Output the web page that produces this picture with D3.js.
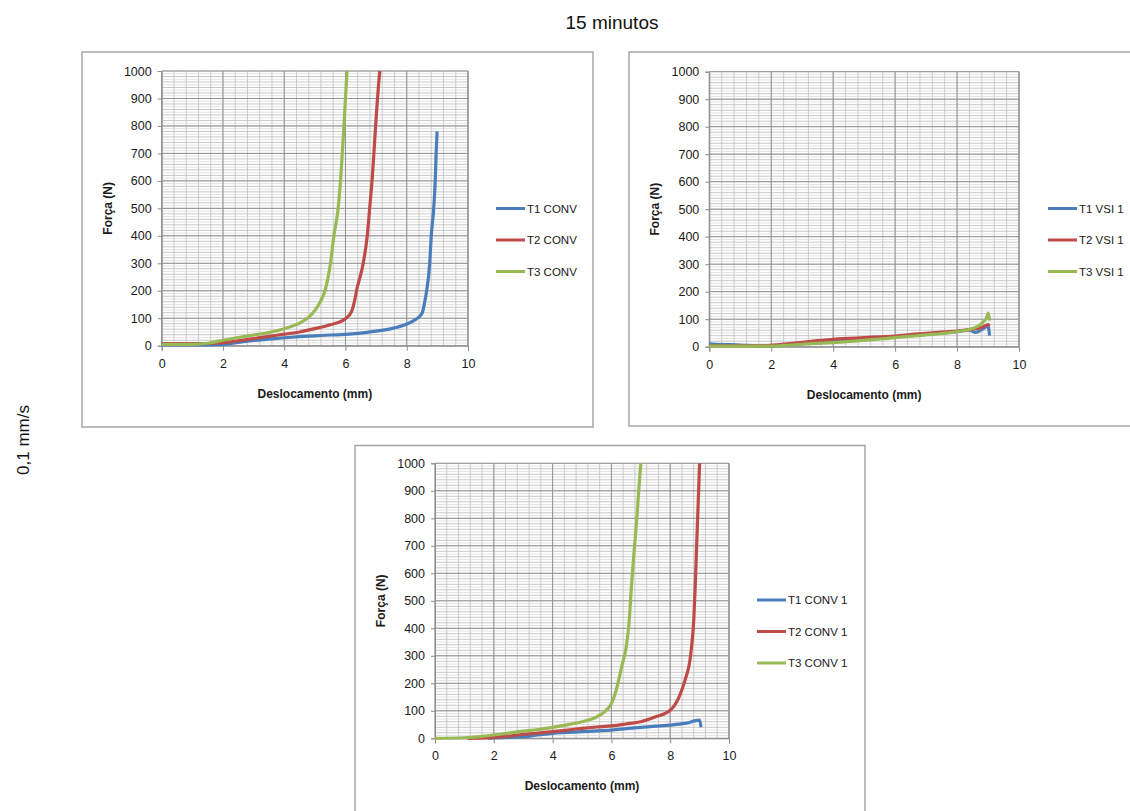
<html>
<head>
<script src="https://d3js.org/d3.v7.min.js"></script>
<style>
  html { font-family: "Liberation Sans", Arial, sans-serif; }
  body { margin: 0; background: #fff; }
</style>
</head>
<body>
<svg id="chart" width="1130" height="811"></svg>
<script>
// ---- data ----
var xTicks = [0, 2, 4, 6, 8, 10];
var yTicks = [0, 100, 200, 300, 400, 500, 600, 700, 800, 900, 1000];

// 15 minutos, panel 1 (CONV)
var t1Conv = [[0,3],[1,3],[1.7,3],[2,5],[2.5,12],[3,19],[3.5,24],[4,29],[4.5,33],[5,36],[5.5,39],[6,41],[6.5,46],[7,53],[7.5,62],[8,79],[8.3,96],[8.5,118],[8.6,167],[8.65,200],[8.75,300],[8.8,400],[8.88,500],[8.93,600],[8.96,700],[8.99,780]];
var t2Conv = [[0,8],[1,8],[1.5,8],[2,11],[2.5,18],[3,26],[3.5,34],[4,42],[4.5,50],[5,62],[5.5,76],[6,98],[6.2,125],[6.3,165],[6.36,200],[6.58,300],[6.71,400],[6.79,500],[6.88,620],[6.95,740],[7.02,860],[7.08,950],[7.12,1000]];
var t3Conv = [[0,5],[1,5],[1.5,9],[2,20],[2.5,30],[3,39],[3.5,48],[4,62],[4.5,82],[4.8,104],[5,128],[5.2,165],[5.33,200],[5.51,300],[5.62,400],[5.76,500],[5.85,620],[5.95,800],[6.0,900],[6.05,1000]];

// 15 minutos, panel 2 (VSI)
var t1Vsi = [[0,10],[0.5,8],[1,6],[1.5,3],[2,2],[2.5,6],[3,11],[3.5,16],[4,20],[4.5,24],[5,28],[5.5,31],[6,35],[6.5,40],[7,45],[7.5,50],[8,55],[8.4,60],[8.6,52],[8.8,62],[9.0,75],[9.05,40]];
var t2Vsi = [[0,3],[1,3],[1.5,3],[2,5],[2.5,10],[3,16],[3.5,22],[4,27],[4.5,30],[5,33],[5.5,36],[6,39],[6.5,44],[7,49],[7.5,53],[8,57],[8.5,64],[8.8,70],[9.0,80],[9.05,75]];
var t3Vsi = [[0,2],[1,2],[2,2],[2.5,5],[3,9],[3.5,12],[4,15],[4.5,19],[5,23],[5.5,28],[6,33],[6.5,38],[7,43],[7.5,48],[8,55],[8.5,66],[8.8,85],[8.95,105],[9.01,122],[9.05,95]];

// panel 3 (CONV 1)
var t1Conv1 = [[1.8,0],[2,1],[2.5,3],[3,6],[3.5,12],[4,18],[4.5,21],[5,24],[5.5,27],[6,30],[6.5,35],[7,40],[7.5,44],[8,48],[8.5,54],[9,66],[9.05,40]];
var t2Conv1 = [[1.1,0],[1.7,1],[2,3],[2.5,8],[3,14],[3.5,19],[4,24],[4.5,30],[5,36],[5.5,41],[6,45],[6.5,52],[7,60],[7.5,78],[8,102],[8.3,150],[8.5,210],[8.7,307],[8.8,428],[8.85,550],[8.9,700],[8.95,850],[9.0,1000]];
var t3Conv1 = [[0,0],[1,2],[1.5,6],[2,12],[2.5,19],[3,26],[3.5,32],[4,40],[4.5,49],[5,60],[5.5,78],[5.8,100],[6,126],[6.2,190],[6.35,260],[6.5,330],[6.6,420],[6.68,550],[6.75,650],[6.85,780],[6.93,900],[7.0,1000]];

var labelsConv = ["T1 CONV", "T2 CONV", "T3 CONV"];
var labelsVsi = ["T1 VSI 1", "T2 VSI 1", "T3 VSI 1"];
var labelsConv1 = ["T1 CONV 1", "T2 CONV 1", "T3 CONV 1"];

var colors = ["#4a7ebb", "#be4b48", "#98b954"];

var svg = d3.select("#chart");

// page titles
svg.append("text").attr("x", 612).attr("y", 29)
  .attr("text-anchor", "middle").attr("font-size", 19).attr("fill", "#111")
  .text("15 minutos");
svg.append("text").attr("transform", "translate(29,440) rotate(-90)")
  .attr("text-anchor", "middle").attr("font-size", 17).attr("fill", "#111")
  .text("0,1 mm/s");

function drawPanel(p) {
  var g = svg.append("g");

  g.append("rect")
    .attr("x", p.frame[0]).attr("y", p.frame[1])
    .attr("width", p.frame[2]).attr("height", p.frame[3])
    .attr("fill", "#fff").attr("stroke", "#a6a6a6").attr("stroke-width", 1.5);

  var x = d3.scaleLinear().domain([0, 10]).range([p.x0, p.x1]);
  var y = d3.scaleLinear().domain([0, 1000]).range([p.y0, p.y1]);

  // minor grid
  g.selectAll(".vminor").data(d3.range(0, 10.01, 0.4)).enter().append("line")
    .attr("x1", function(d){ return x(d); }).attr("x2", function(d){ return x(d); })
    .attr("y1", y(0)).attr("y2", y(1000))
    .attr("stroke", "#c8c8c8").attr("stroke-width", 1);
  g.selectAll(".hminor").data(d3.range(0, 1001, 20)).enter().append("line")
    .attr("x1", x(0)).attr("x2", x(10))
    .attr("y1", function(d){ return y(d); }).attr("y2", function(d){ return y(d); })
    .attr("stroke", "#c8c8c8").attr("stroke-width", 1);
  g.selectAll(".hminor2").data(d3.range(10, 1001, 20)).enter().append("line")
    .attr("x1", x(0)).attr("x2", x(10))
    .attr("y1", function(d){ return y(d); }).attr("y2", function(d){ return y(d); })
    .attr("stroke", "#dcdcdc").attr("stroke-width", 0.8);

  // major grid
  g.selectAll(".vmajor").data(xTicks).enter().append("line")
    .attr("x1", function(d){ return x(d); }).attr("x2", function(d){ return x(d); })
    .attr("y1", y(0)).attr("y2", y(1000))
    .attr("stroke", "#939393").attr("stroke-width", 1);
  g.selectAll(".hmajor").data(yTicks).enter().append("line")
    .attr("x1", x(0)).attr("x2", x(10))
    .attr("y1", function(d){ return y(d); }).attr("y2", function(d){ return y(d); })
    .attr("stroke", "#939393").attr("stroke-width", 1);

  // axes
  var yAxis = d3.axisLeft(y).tickValues(yTicks).tickSize(4).tickPadding(6).tickFormat(d3.format("d"));
  var xAxis = d3.axisBottom(x).tickValues(xTicks).tickSize(5).tickPadding(8).tickFormat(d3.format("d"));

  var yg = g.append("g").attr("transform", "translate(" + x(0) + ",0)").call(yAxis);
  var xg = g.append("g").attr("transform", "translate(0," + y(0) + ")").call(xAxis);
  [yg, xg].forEach(function(a) {
    a.select(".domain").attr("stroke", "#8c8c8c");
    a.selectAll(".tick line").attr("stroke", "#8c8c8c");
    a.selectAll(".tick text").attr("font-size", 12.5).attr("fill", "#1a1a1a")
      .attr("font-family", "Liberation Sans, Arial, sans-serif");
  });
  g.append("line").attr("x1", x(10)).attr("x2", x(10)).attr("y1", y(0)).attr("y2", y(1000))
    .attr("stroke", "#8c8c8c");

  // axis titles
  g.append("text").attr("x", (p.x0 + p.x1) / 2).attr("y", p.y0 + 52)
    .attr("text-anchor", "middle").attr("font-size", 12).attr("font-weight", "bold")
    .attr("fill", "#1a1a1a").text("Deslocamento (mm)");
  g.append("text")
    .attr("transform", "translate(" + (p.x0 - 50) + "," + ((p.y0 + p.y1) / 2) + ") rotate(-90)")
    .attr("text-anchor", "middle").attr("font-size", 12).attr("font-weight", "bold")
    .attr("fill", "#1a1a1a").text("Força (N)");

  // series
  var line = d3.line()
    .x(function(d){ return x(d[0]); })
    .y(function(d){ return y(d[1]); })
    .curve(d3.curveMonotoneX);

  p.series.forEach(function(s, i) {
    g.append("path").datum(s)
      .attr("fill", "none").attr("stroke", colors[i])
      .attr("stroke-width", 3.2).attr("stroke-linejoin", "round")
      .attr("d", line);
  });

  // legend
  var lg = g.append("g").attr("transform", "translate(" + p.legend[0] + "," + p.legend[1] + ")");
  p.labels.forEach(function(l, i) {
    lg.append("line").attr("x1", 0).attr("x2", 29)
      .attr("y1", i * 31.5).attr("y2", i * 31.5)
      .attr("stroke", colors[i]).attr("stroke-width", 3);
    lg.append("text").attr("x", 31).attr("y", i * 31.5 + 4)
      .attr("font-size", 11.5).attr("fill", "#1a1a1a").text(l);
  });
}

drawPanel({
  frame: [82, 52, 511, 375], x0: 161.7, x1: 468, y0: 345.7, y1: 71,
  series: [t1Conv, t2Conv, t3Conv], labels: labelsConv, legend: [496, 208.5]
});
drawPanel({
  frame: [629, 52, 510, 374], x0: 709.3, x1: 1019, y0: 346.7, y1: 71.7,
  series: [t1Vsi, t2Vsi, t3Vsi], labels: labelsVsi, legend: [1048, 208.5]
});
drawPanel({
  frame: [355, 445.5, 510, 380], x0: 435, x1: 729, y0: 738.3, y1: 463.3,
  series: [t1Conv1, t2Conv1, t3Conv1], labels: labelsConv1, legend: [757, 600]
});
</script>
</body>
</html>
